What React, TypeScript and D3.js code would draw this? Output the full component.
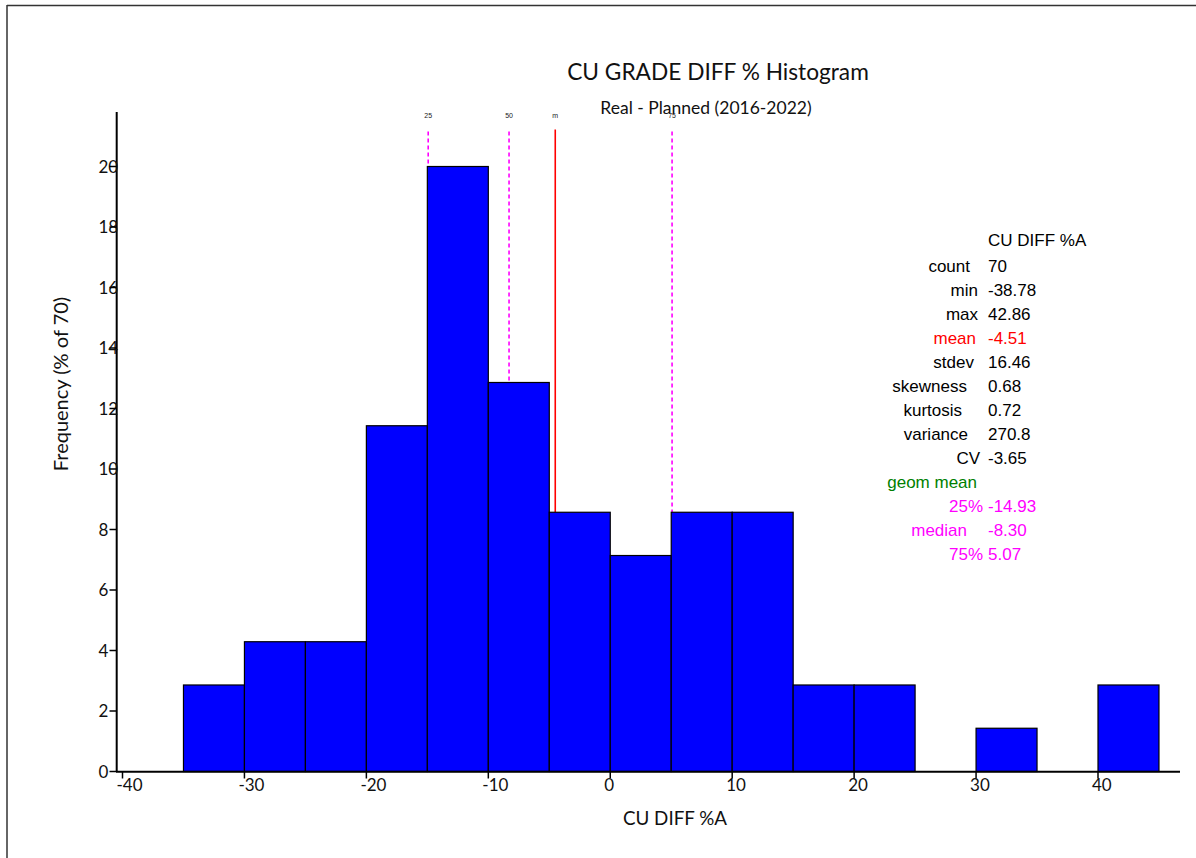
import React from "react";
import * as d3 from "d3";

// ---- data ----
const binEdges: number[] = [-35, -30, -25, -20, -15, -10, -5, 0, 5, 10, 15, 20, 25, 30, 35, 40, 45];
const binFreq: number[] = [2.86, 4.29, 4.29, 11.43, 20.0, 12.86, 8.57, 7.14, 8.57, 8.57, 2.86, 2.86, 0, 1.43, 0, 2.86];
const xTicks: number[] = [-40, -30, -20, -10, 0, 10, 20, 30, 40];
const yTicks: number[] = [0, 2, 4, 6, 8, 10, 12, 14, 16, 18, 20];

const markerLabels: string[] = ["25", "50", "m", "75"];
const markerValues: number[] = [-14.93, -8.3, -4.51, 5.07];
const markerKinds: string[] = ["q", "q", "mean", "q"];

const statLabels: string[] = ["count", "min", "max", "mean", "stdev", "skewness", "kurtosis", "variance", "CV", "geom mean", "25%", "median", "75%"];
const statValues: string[] = ["70", "-38.78", "42.86", "-4.51", "16.46", "0.68", "0.72", "270.8", "-3.65", "", "-14.93", "-8.30", "5.07"];
const statKinds: string[] = ["n", "n", "n", "mean", "n", "n", "n", "n", "n", "geom", "q", "q", "q"];

const title = "CU GRADE DIFF % Histogram";
const subtitle = "Real - Planned (2016-2022)";
const xLabel = "CU DIFF %A";
const yLabel = "Frequency (% of 70)";
const statsHeader = "CU DIFF %A";

// layout (right edge of each stats label, as in the source layout)
const statLabelRight: number[] = [970, 978, 978, 976, 974, 967, 962, 968, 980, 977, 983, 967, 983];

const kindColor: Record<string, string> = { n: "#000000", mean: "#ff0000", geom: "#008000", q: "#ff00ff" };

export default function App() {
  const W = 1196, H = 858;
  const x = d3.scaleLinear().domain([-40, 40]).range([122.5, 1098]);
  const y = d3.scaleLinear().domain([0, 20]).range([771.5, 166.5]);
  const axisFont = "Lato, 'Open Sans', sans-serif";
  const statFont = "'Liberation Sans', Arial, sans-serif";
  const bars = binFreq.map((f, i) => ({ x0: binEdges[i], x1: binEdges[i + 1], f }));

  const barTopAt = (v: number) => {
    const b = bars.find((d) => v >= d.x0 && v < d.x1);
    return b ? y(b.f) : y(0);
  };

  return (
    <svg width={W} height={H} style={{ position: "absolute", left: 0, top: 0, background: "#fff" }}>
      {/* frame */}
      <line x1={7} y1={5.5} x2={W} y2={5.5} stroke="#333" strokeWidth={1.5} />
      <line x1={7} y1={5} x2={7} y2={H} stroke="#333" strokeWidth={1.5} />

      {/* title */}
      <text x={718} y={80} textAnchor="middle" fontFamily={axisFont} fontSize={22.7} fill="#111">{title}</text>
      <text x={706} y={114} textAnchor="middle" fontFamily={axisFont} fontSize={17.5} fill="#111">{subtitle}</text>

      {/* marker lines (behind bars) */}
      {markerValues.map((v, i) => (
        <g key={"m" + i}>
          <line
            x1={x(v)} x2={x(v)}
            y1={markerKinds[i] === "mean" ? 129.5 : 131.5}
            y2={barTopAt(v)}
            stroke={markerKinds[i] === "mean" ? "#ff0000" : "#ff00ff"}
            strokeWidth={1.6}
            strokeDasharray={markerKinds[i] === "mean" ? undefined : "4,3"}
          />
          <text x={x(v)} y={117.5} textAnchor="middle" fontFamily={statFont} fontSize={7} fill="#222">{markerLabels[i]}</text>
        </g>
      ))}

      {/* bars */}
      {bars.filter((d) => d.f > 0).map((d, i) => (
        <rect key={"b" + i} x={x(d.x0)} y={y(d.f)} width={x(d.x1) - x(d.x0)} height={y(0) - y(d.f)} fill="#0000ff" stroke="#000" strokeWidth={1.2} />
      ))}

      {/* y axis */}
      <line x1={116.7} y1={112} x2={116.7} y2={772} stroke="#000" strokeWidth={2} />
      {yTicks.map((t) => (
        <g key={"yt" + t}>
          <text x={98.5} y={y(t) + 6} textAnchor="start" fontFamily={axisFont} fontSize={17} fill="#111">{t}</text>
          <line x1={109.5} x2={116.7} y1={y(t)} y2={y(t)} stroke="#000" strokeWidth={1.5} />
        </g>
      ))}

      {/* x axis */}
      <line x1={116} y1={771.8} x2={1180} y2={771.8} stroke="#000" strokeWidth={2} />
      {xTicks.map((t) => (
        <g key={"xt" + t}>
          <line x1={x(t)} x2={x(t)} y1={772} y2={778.5} stroke="#000" strokeWidth={1.5} />
          <text x={x(t) - 6} y={791} textAnchor="start" fontFamily={axisFont} fontSize={17} fill="#111">{t}</text>
        </g>
      ))}

      {/* axis labels */}
      <text x={675} y={825} textAnchor="middle" fontFamily={axisFont} fontSize={18.8} fill="#111">{xLabel}</text>
      <text transform={`translate(68,384) rotate(-90)`} textAnchor="middle" fontFamily={axisFont} fontSize={20} fill="#111">{yLabel}</text>

      {/* stats panel */}
      <text x={988} y={245.5} fontFamily={statFont} fontSize={17} fill="#000">{statsHeader}</text>
      {statLabels.map((l, i) => (
        <g key={"s" + i}>
          <text x={statLabelRight[i]} y={271.7 + i * 24.03} textAnchor="end" fontFamily={statFont} fontSize={17} fill={kindColor[statKinds[i]]}>{l}</text>
          <text x={988} y={271.7 + i * 24.03} textAnchor="start" fontFamily={statFont} fontSize={17} fill={kindColor[statKinds[i]]}>{statValues[i]}</text>
        </g>
      ))}
    </svg>
  );
}
